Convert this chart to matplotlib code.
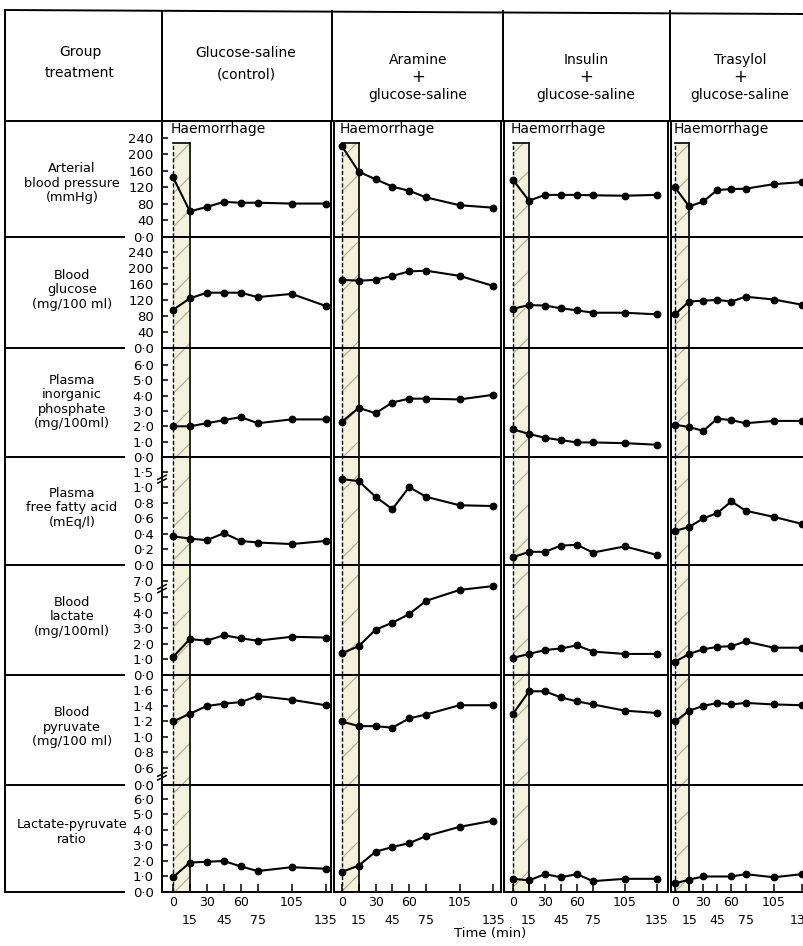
import numpy as np
import matplotlib
import matplotlib.pyplot as plt
from matplotlib.lines import Line2D
from matplotlib.ticker import NullLocator, FixedLocator, FixedFormatter
matplotlib.use('Agg')

# sampling times (min), haemorrhage from 0 to 15 min
times = [0, 15, 30, 45, 60, 75, 105, 135]
haem = (0, 15)

group_names = [['Glucose-saline', '(control)'],
               ['Aramine', '+', 'glucose-saline'],
               ['Insulin', '+', 'glucose-saline'],
               ['Trasylol', '+', 'glucose-saline']]

row_names = ['Arterial\nblood pressure\n(mmHg)',
             'Blood\nglucose\n(mg/100 ml)',
             'Plasma\ninorganic\nphosphate\n(mg/100ml)',
             'Plasma\nfree fatty acid\n(mEq/l)',
             'Blood\nlactate\n(mg/100ml)',
             'Blood\npyruvate\n(mg/100 ml)',
             'Lactate-pyruvate\nratio']

# one list per group: control, aramine, insulin, trasylol
bp = [[145, 62, 73, 85, 83, 83, 81, 81],
      [220, 158, 140, 122, 112, 96, 77, 71],
      [138, 88, 102, 102, 102, 101, 100, 102],
      [120, 74, 86, 114, 116, 117, 128, 133]]
glucose = [[95, 124, 138, 138, 138, 127, 135, 105],
           [170, 168, 170, 180, 191, 193, 180, 155],
           [98, 107, 106, 99, 94, 88, 88, 84],
           [84, 116, 118, 120, 116, 128, 121, 108]]
phosphate = [[2.0, 2.0, 2.2, 2.4, 2.6, 2.2, 2.45, 2.45],
             [2.3, 3.2, 2.85, 3.55, 3.8, 3.8, 3.75, 4.05],
             [1.8, 1.5, 1.25, 1.1, 0.95, 0.95, 0.9, 0.8],
             [2.1, 1.95, 1.7, 2.5, 2.4, 2.2, 2.35, 2.35]]
ffa = [[0.37, 0.34, 0.32, 0.41, 0.31, 0.29, 0.27, 0.31],
       [1.27, 1.2, 0.88, 0.72, 1.01, 0.88, 0.77, 0.76],
       [0.1, 0.17, 0.17, 0.25, 0.26, 0.16, 0.24, 0.13],
       [0.44, 0.49, 0.6, 0.67, 0.82, 0.7, 0.62, 0.53]]
lactate = [[1.15, 2.3, 2.2, 2.55, 2.35, 2.2, 2.45, 2.4],
           [1.4, 1.85, 2.9, 3.35, 3.9, 4.75, 5.9, 6.4],
           [1.1, 1.35, 1.6, 1.7, 1.9, 1.5, 1.35, 1.35],
           [0.85, 1.35, 1.65, 1.8, 1.85, 2.15, 1.75, 1.75]]
pyruvate = [[1.2, 1.3, 1.4, 1.43, 1.45, 1.53, 1.48, 1.41],
            [1.2, 1.14, 1.14, 1.12, 1.24, 1.29, 1.41, 1.41],
            [1.3, 1.59, 1.59, 1.51, 1.46, 1.42, 1.34, 1.31],
            [1.2, 1.34, 1.4, 1.44, 1.42, 1.44, 1.42, 1.41]]
ratio = [[0.95, 1.9, 1.95, 2.0, 1.65, 1.35, 1.6, 1.5],
         [1.3, 1.7, 2.6, 2.9, 3.15, 3.6, 4.2, 4.6],
         [0.85, 0.75, 1.15, 0.95, 1.15, 0.7, 0.85, 0.85],
         [0.55, 0.8, 1.0, None, 1.0, 1.15, 0.95, 1.15]]

rows = [bp, glucose, phosphate, ffa, lactate, pyruvate, ratio]

yticks = [[0, 40, 80, 120, 160, 200, 240],
          [0, 40, 80, 120, 160, 200, 240],
          [0, 1, 2, 3, 4, 5, 6],
          [0, 0.2, 0.4, 0.6, 0.8, 1.0, 1.5],
          [0, 1, 2, 3, 4, 5, 7],
          [0, 0.6, 0.8, 1.0, 1.2, 1.4, 1.6],
          [0, 1, 2, 3, 4, 5, 6]]
ytick_labels = [['0·0', '40', '80', '120', '160', '200', '240'],
                ['0·0', '40', '80', '120', '160', '200', '240'],
                ['0·0', '1·0', '2·0', '3·0', '4·0', '5·0', '6·0'],
                ['0·0', '0·2', '0·4', '0·6', '0·8', '1·0', '1·5'],
                ['0·0', '1·0', '2·0', '3·0', '4·0', '5·0', '7·0'],
                ['0·0', '0·6', '0·8', '1·0', '1·2', '1·4', '1·6'],
                ['0·0', '1·0', '2·0', '3·0', '4·0', '5·0', '6·0']]
ytops = [281, 277, 7.1, 1.98, 9.1, 1.8, 6.9]
# x labels are staggered on two lines
xticks_upper = [0, 30, 60, 105]
xticks_lower = [15, 45, 75, 135]


# broken axes: squeeze the part above (or below) the break
def upper_break(b, k):
    fwd = lambda y: np.where(y <= b, y, b + (y - b) * k)
    inv = lambda u: np.where(u <= b, u, b + (u - b) / k)
    return fwd, inv


def lower_break(b, k):
    fwd = lambda y: np.where(y >= b, y - b + b * k, y * k)
    inv = lambda u: np.where(u >= b * k, u + b - b * k, u / k)
    return fwd, inv


scales = [None, None, None, upper_break(1.0, 0.4), upper_break(5.0, 0.5),
          lower_break(0.6, 0.366), None]
breaks = [None, None, None, 1.25, 6.0, 0.3, None]

# layout in pixels
W, H = 804, 946
row_edges = [121, 237, 348, 457, 565, 675, 785, 892]
col_edges = [(162, 331), (334, 501), (504, 668), (671, 812)]
col_xlims = [(-9.7, 139.8), (-7.1, 142), (-8.5, 145.5), (-4.3, 145.7)]
header_x = [246, 418, 586, 740]


def fx(x):
    return x / W


def fy(y):
    return 1 - y / H


fig = plt.figure(figsize=(W / 100, H / 100), dpi=100)
plt.rcParams['hatch.linewidth'] = 0.7

LW = 1.4


def fig_line(xs, ys, lw=LW):
    fig.add_artist(Line2D([fx(x) for x in xs], [fy(y) for y in ys], color='black', lw=lw))


# table frame
fig_line([5, 804], [10, 14])
fig_line([5, 5], [10, 892])
fig_line([5, 804], [121, 121])
for x in [162, 332, 503, 670]:
    fig_line([x, x], [11, 121])
for y in row_edges[1:]:
    fig_line([5, 124], [y, y])

# header
fig.text(fx(80), fy(52), 'Group', ha='center', va='center', fontsize=10)
fig.text(fx(80), fy(73), 'treatment', ha='center', va='center', fontsize=10)
for ci, lines in enumerate(group_names):
    if len(lines) == 2:
        ys = [53, 75]
    else:
        ys = [60, 77, 95]
    for line, y in zip(lines, ys):
        fig.text(fx(header_x[ci]), fy(y), line, ha='center', va='center',
                 fontsize=12 if line == '+' else 10)

# row labels
row_label_y = [183, 290, 402, 508, 617, 727, 832]
for ri, name in enumerate(row_names):
    fig.text(fx(72), fy(row_label_y[ri]), name, ha='center', va='center',
             fontsize=9.3, linespacing=1.12)

for ri in range(7):
    top, bottom = row_edges[ri], row_edges[ri + 1]
    for ci in range(4):
        left, right = col_edges[ci]
        ax = fig.add_axes([fx(left), fy(bottom), (right - left) / W, (bottom - top) / H])
        ax.patch.set_alpha(0)
        for sp in ax.spines.values():
            sp.set_linewidth(LW)
        if scales[ri] is not None:
            ax.set_yscale('function', functions=scales[ri])

        # haemorrhage band
        band_top = 0.81 if ri == 0 else 1.0
        ax.axvspan(haem[0], haem[1], ymin=0, ymax=band_top, facecolor='#f4f1dc',
                   edgecolor='#a8a488', hatch='/', lw=0, zorder=1)
        ax.axvline(haem[0], ymax=band_top, color='black', lw=1.0, ls=(0, (3, 1.5)), zorder=2)
        ax.axvline(haem[1], ymax=band_top, color='black', lw=1.2, zorder=2)
        if ri == 0:
            ax.plot(haem, [0.81, 0.81], transform=ax.get_xaxis_transform(),
                    color='black', lw=1.2, zorder=2)
            ax.text(haem[0] - 2, 0.935, 'Haemorrhage', transform=ax.get_xaxis_transform(),
                    ha='left', va='center', fontsize=10)

        vals = rows[ri][ci]
        t = [tt for tt, v in zip(times, vals) if v is not None]
        v = [v for v in vals if v is not None]
        ax.plot(t, v, '-o', color='black', lw=1.5, ms=4.6, zorder=3)

        ax.set_xlim(col_xlims[ci])
        ax.set_ylim(0, ytops[ri])

        if ci == 0:
            ax.set_yticks(yticks[ri])
            ax.set_yticklabels(ytick_labels[ri])
            ax.tick_params(axis='y', direction='in', length=4, width=1.1, pad=6, labelsize=9.5)
            ax.yaxis.set_minor_locator(NullLocator())
            if breaks[ri] is not None:
                fwd = scales[ri][0]
                f = float(fwd(np.array(breaks[ri])) / fwd(np.array(ytops[ri])))
                for dy in (-0.012, 0.022):
                    ax.plot([-0.025, 0.025], [f + dy - 0.02, f + dy + 0.02],
                            transform=ax.transAxes, color='black', lw=1.1, clip_on=False)
        else:
            ax.set_yticks([])
            ax.yaxis.set_minor_locator(NullLocator())

        if ri == 6:
            ax.xaxis.set_major_locator(FixedLocator(xticks_upper))
            ax.xaxis.set_major_formatter(FixedFormatter([str(x) for x in xticks_upper]))
            ax.xaxis.set_minor_locator(FixedLocator(xticks_lower))
            ax.xaxis.set_minor_formatter(FixedFormatter([str(x) for x in xticks_lower]))
            ax.tick_params(axis='x', which='both', direction='in', length=6, width=1.1,
                           labelsize=9)
            ax.tick_params(axis='x', which='major', pad=3)
            ax.tick_params(axis='x', which='minor', pad=16)
        else:
            ax.set_xticks([])

fig.text(fx(490), fy(933), 'Time (min)', ha='center', va='center', fontsize=9.5)

plt.savefig('out.png', dpi=100)
plt.close()
